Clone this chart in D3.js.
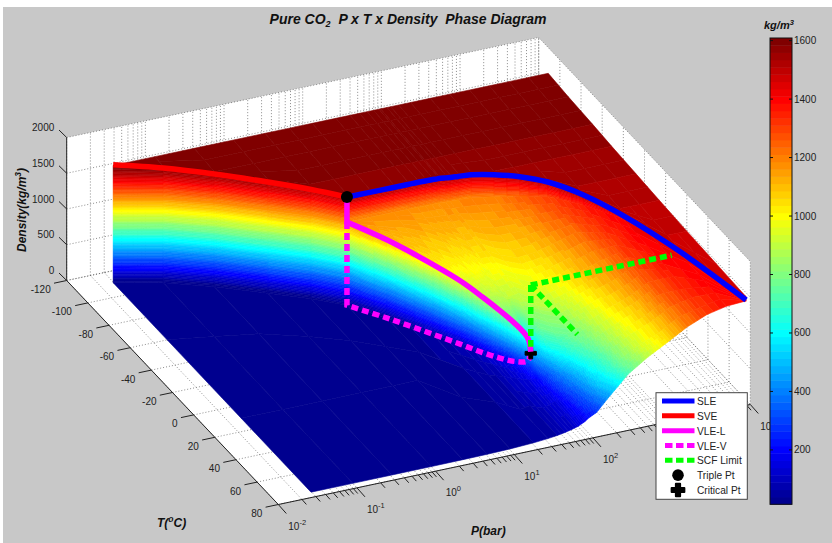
<!DOCTYPE html>
<html>
<head>
<meta charset="utf-8">
<script src="https://d3js.org/d3.v7.min.js"></script>
<style>
html, body { margin: 0; padding: 0; background: #fff; }
text { font-family: "Liberation Sans", Arial, sans-serif; fill: #222; font-size: 10px; }
.lab { font-weight: bold; font-style: italic; font-size: 12px; fill: #111; }
</style>
</head>
<body>
<script>
// axis ticks
var pMajor = [1e-2, 1e-1, 1e0, 1e1, 1e2, 1e3, 1e4];
var tTicks = [-120, -100, -80, -60, -40, -20, 0, 20, 40, 60, 80];
var zTicks = [0, 500, 1000, 1500, 2000];
var cbTicks = [200, 400, 600, 800, 1000, 1200, 1400, 1600];

// isobars of the surface, log10(P/bar); everything below is one value per isobar
var logP = [-1.53, -1, -0.5, 0, 0.4, 0.71, 1, 1.3, 1.48, 1.6, 1.7, 1.78, 1.85, 1.868, 1.95, 2, 2.1, 2.25, 2.5, 2.75, 3, 3.25, 3.5, 3.75, 4];
// solid edge (SVE then SLE)
var edgeT = [-111, -103, -92, -78.6, -67.5, -56.6, -56.6, -56.5, -56.4, -56.3, -56.2, -56.1, -56, -56, -55.5, -55.2, -54.7, -54, -50.5, -45, -37, -22, -3, 30, 76];
var edgeRho = [1650, 1606, 1578, 1559, 1535, 1528, 1526, 1526, 1527, 1529, 1528, 1528, 1527, 1527, 1525, 1523, 1523, 1522, 1520, 1520, 1512, 1508, 1459, 1435, 1399];
// liquid side
var liqRho = [1178, 1178, 1178, 1178, 1178, 1178, 1178, 1180, 1181, 1182, 1183, 1184, 1186, 1186, 1188, 1190, 1195, 1200, 1210, 1250, 1310, 1370, 1415, 1425, 1395];
var aT = [-111, -103, -92, -78.6, -67.5, -56.6, -50, -45, -40, -35, -30, -25, -20, -20, -20, -20, -15, -10, -10, -10, -10, 0, 20, 40, 76];
var aRho = [1178, 1178, 1178, 1178, 1178, 1178, 1155, 1140, 1120, 1100, 1080, 1062, 1045, 1045, 1050, 1055, 1045, 1050, 1080, 1155, 1235, 1325, 1390, 1415, 1393];
var bT = [-111, -103, -92, -78.6, -67.5, -56.6, -45, -30, -20, -15, -5, 5, 10, 10, 10, 10, 15, 20, 20, 20, 20, 20, 35, 50, 76];
var bRho = [1178, 1178, 1178, 1178, 1178, 1178, 1135, 1075, 1035, 1015, 975, 920, 895, 900, 915, 925, 915, 910, 985, 1075, 1165, 1295, 1375, 1405, 1391];
// saturation (liquid / vapor sides of the dome)
var satT = [-111, -103, -92, -78.6, -67.5, -56.6, -40.1, -19.5, -5.5, 5.3, 14.3, 22, 29.5, 31, 28, 30, 35, 40, 40, 40, 40, 40, 45, 55, 76];
var satLiq = [1178, 1178, 1178, 1178, 1178, 1178, 1118, 1030, 965, 893, 820, 750, 640, 467, 770, 772, 770, 780, 900, 1020, 1120, 1265, 1360, 1398, 1390];
var vapT = [-111, -103, -92, -78.6, -67.5, -56.6, -40.1, -19.5, -5.5, 5.3, 14.3, 22, 29.5, 31, 37, 40, 45, 50, 50, 50, 50, 50, 55, 60, 76];
var satVap = [0.2, 0.6, 1.8, 5, 8, 14, 26, 55, 85, 116, 157, 212, 320, 467, 590, 630, 640, 710, 860, 990, 1095, 1245, 1345, 1392, 1389];
// vapor / supercritical side
var cT = [-60, -55, -50, -40, -30, -20, -10, 10, 20, 25, 30, 35, 38, 40, 45, 50, 55, 60, 60, 60, 60, 60, 62, 65, 76];
var cRho = [0.2, 0.5, 1.5, 4, 7, 12, 20, 38, 60, 88, 120, 155, 200, 220, 350, 385, 470, 620, 815, 960, 1070, 1225, 1330, 1385, 1388];
var dT = [10, 10, 10, 10, 10, 10, 30, 40, 50, 50, 55, 55, 55, 55, 60, 60, 65, 68, 68, 68, 68, 68, 70, 70, 76];
var dRho = [0.1, 0.4, 1.2, 3, 6, 10, 18, 34, 52, 72, 95, 120, 150, 160, 225, 290, 380, 550, 780, 940, 1050, 1210, 1320, 1378, 1387];
var endRho = [0.1, 0.3, 1, 2, 5, 8, 15.5, 31, 47.5, 64, 83, 103, 125, 131, 175, 214, 270, 440, 710, 890, 1040, 1195, 1310, 1370, 1386];
var tMin = -111, tMax = 76;
// solid plateau, density runs mostly with T
var solidT = [-111, -92, -69, -51, -28, -6, 20, 76];
var solidRho = [1640, 1609, 1584, 1559, 1534, 1509, 1484, 1445];

// SCF limit: a corner above the critical point and three dashed legs out of it
var scfCornerP = 73.8, scfCornerT = 31, scfCornerZ = 1400;
var scfEndP = [4570, 73.8, 73.8];
var scfEndT = [31, 75, 31];
var scfEndZ = [1400, 1400, 467];
var tripleRho = 1528, tripleLiq = 1178;
var legendNames = ["SLE", "SVE", "VLE-L", "VLE-V", "SCF Limit", "Triple Pt", "Critical Pt"];

var W = 832, H = 543;
var svg = d3.select("body").append("svg")
    .attr("width", W).attr("height", H)
    .style("display", "block");

svg.append("rect").attr("x", 3).attr("y", 7).attr("width", W - 3).attr("height", H - 7).attr("fill", "#c8c8c8");

// 3d view: axes projected by hand, orthographic
var px = d3.scaleLog().domain([1e-2, 1e4]).range([0, 1]);
var tx = d3.scaleLinear().domain([-120, 80]).range([0, 1]);
var zy = d3.scaleLinear().domain([0, 2000]).range([0, 143]);

function proj(p, t, z) {
    var u = px(p), v = tx(t);
    return [66.7 + 472 * u + 211.6 * v, 280.5 - 100 * u + 224 * v - zy(z)];
}

// jet colormap, 64 levels
function clamp01(a) { return Math.max(0, Math.min(1, a)); }
var jet = d3.range(64).map(function(i) {
    var x = (i + 1) / 64;
    var r = clamp01(Math.min(4 * x - 1.5, -4 * x + 4.5)),
        g = clamp01(Math.min(4 * x - 0.5, -4 * x + 3.5)),
        b = clamp01(Math.min(4 * x + 0.5, -4 * x + 2.5));
    return d3.rgb(r * 255, g * 255, b * 255).formatHex();
});
var color = d3.scaleQuantize().domain([14, 1609]).range(jet);

// white panes
var pMin = 1e-2, pMax = 1e4;
var line = d3.line();
var panes = [
    [proj(pMin, -120, 0), proj(pMin, -120, 2000), proj(pMax, -120, 2000), proj(pMax, -120, 0)],
    [proj(pMax, -120, 0), proj(pMax, -120, 2000), proj(pMax, 80, 2000), proj(pMax, 80, 0)],
    [proj(pMin, -120, 0), proj(pMax, -120, 0), proj(pMax, 80, 0), proj(pMin, 80, 0)]
];
svg.append("g").selectAll("path").data(panes).join("path")
    .attr("d", function(d) { return line(d) + "Z"; })
    .attr("fill", "#fff");

// dotted grid, decades plus minor lines
var pGrid = px.copy().ticks();
var grid = [];
pGrid.forEach(function(p) {
    grid.push([proj(p, -120, 0), proj(p, -120, 2000)]);
    grid.push([proj(p, -120, 0), proj(p, 80, 0)]);
});
tTicks.forEach(function(t) {
    grid.push([proj(pMin, t, 0), proj(pMax, t, 0)]);
    grid.push([proj(pMax, t, 0), proj(pMax, t, 2000)]);
});
zTicks.forEach(function(z) {
    grid.push([proj(pMin, -120, z), proj(pMax, -120, z)]);
    grid.push([proj(pMax, -120, z), proj(pMax, 80, z)]);
});
svg.append("g").selectAll("path").data(grid).join("path")
    .attr("d", line)
    .attr("fill", "none")
    .attr("stroke", "#666")
    .attr("stroke-width", 0.75)
    .attr("stroke-dasharray", "1,2");

// surface mesh: each isobar runs through the same rows, walls are collapsed rows
var solidAt = d3.scaleLinear().domain(solidT).range(solidRho);
var rows = logP.map(function(lp, j) {
    var p = Math.pow(10, lp);
    var solidRows = solidT.map(function(t) {
        var tt = Math.min(t, edgeT[j]);
        return [tt, solidAt(tt)];
    });
    return solidRows.concat([
        [edgeT[j], liqRho[j]], [aT[j], aRho[j]], [bT[j], bRho[j]],
        [satT[j], satLiq[j]], [vapT[j], satVap[j]], [cT[j], cRho[j]], [dT[j], dRho[j]], [tMax, endRho[j]]
    ]).map(function(k) { return { u: px(p), t: k[0], z: k[1] }; });
});

function at(q, s, r) {
    // bilinear inside one mesh quad
    function mix(f) {
        return (1 - s) * ((1 - r) * f(q[0]) + r * f(q[1])) + s * ((1 - r) * f(q[2]) + r * f(q[3]));
    }
    return {
        u: mix(function(d) { return d.u; }),
        t: mix(function(d) { return d.t; }),
        z: mix(function(d) { return d.z; })
    };
}
function projUV(d) {
    var v = tx(d.t);
    return [66.7 + 472 * d.u + 211.6 * v, 280.5 - 100 * d.u + 224 * v - zy(d.z)];
}

var cells = [];
for (var j = 0; j < rows.length - 1; j++) {
    for (var i = 0; i < rows[j].length - 1; i++) {
        var q = [rows[j][i], rows[j][i + 1], rows[j + 1][i], rows[j + 1][i + 1]];
        var nu = Math.max(1, Math.ceil(Math.max(Math.abs(q[0].z - q[2].z), Math.abs(q[1].z - q[3].z)) / 20));
        var nv = Math.max(1, Math.ceil(Math.max(Math.abs(q[0].z - q[1].z), Math.abs(q[2].z - q[3].z)) / 20));
        for (var a = 0; a < nu; a++) {
            for (var b = 0; b < nv; b++) {
                var c = at(q, (a + 0.5) / nu, (b + 0.5) / nv);
                cells.push({
                    pts: [
                        projUV(at(q, a / nu, b / nv)),
                        projUV(at(q, a / nu, (b + 1) / nv)),
                        projUV(at(q, (a + 1) / nu, (b + 1) / nv)),
                        projUV(at(q, (a + 1) / nu, b / nv))
                    ],
                    rho: c.z,
                    depth: -100 * c.u + 224 * tx(c.t)
                });
            }
        }
    }
}
cells.sort(function(m, n) { return m.depth - n.depth; });

svg.append("g").selectAll("path").data(cells).join("path")
    .attr("d", function(d) { return line(d.pts) + "Z"; })
    .attr("fill", function(d) { return color(d.rho); })
    .attr("stroke", function(d) { return color(d.rho); })
    .attr("stroke-width", 0.6)
    .attr("stroke-linejoin", "round");

// box edges and ticks
var axis = svg.append("g").attr("stroke", "#222").attr("stroke-width", 1).attr("fill", "none");
var edges = [
    [proj(pMin, -120, 0), proj(pMin, -120, 2000)],
    [proj(pMin, -120, 0), proj(pMin, 80, 0)],
    [proj(pMin, 80, 0), proj(pMax, 80, 0)]
];
axis.selectAll("path.e").data(edges).join("path").attr("class", "e").attr("d", line);

axis.selectAll("path.z").data(zTicks).join("path").attr("class", "z")
    .attr("d", function(z) { var a = proj(pMin, -120, z); return line([a, [a[0] - 7.7, a[1] - 7.5]]); });
axis.selectAll("path.t").data(tTicks).join("path").attr("class", "t")
    .attr("d", function(t) { var a = proj(pMin, t, 0); return line([a, [a[0] - 12.7, a[1] + 2.7]]); });
axis.selectAll("path.p").data(pGrid).join("path").attr("class", "p")
    .attr("d", function(p) {
        var a = proj(p, 80, 0), major = pMajor.indexOf(p) >= 0, k = major ? 1 : 0.55;
        return line([a, [a[0] + 8 * k, a[1] + 9 * k]]);
    });

svg.append("g").selectAll("text").data(zTicks).join("text")
    .attr("x", function(z) { return proj(pMin, -120, z)[0] - 12.4; })
    .attr("y", function(z) { return proj(pMin, -120, z)[1] - 6.5; })
    .attr("text-anchor", "end")
    .text(function(z) { return z; });
svg.append("g").selectAll("text").data(tTicks).join("text")
    .attr("x", function(t) { return proj(pMin, t, 0)[0] - 16; })
    .attr("y", function(t) { return proj(pMin, t, 0)[1] + 12.5; })
    .attr("text-anchor", "end")
    .text(function(t) { return t; });
var pLab = svg.append("g").selectAll("text").data(pMajor).join("text")
    .attr("x", function(p) { return proj(p, 80, 0)[0] + 10; })
    .attr("y", function(p) { return proj(p, 80, 0)[1] + 25; });
pLab.append("tspan").text("10");
pLab.append("tspan").attr("dy", -5).style("font-size", "7.5px")
    .text(function(p) { return Math.round(Math.log10(p)); });

// phase boundary lines, drawn from the same isobar arrays
var nTp = logP.indexOf(0.71), nCp = logP.indexOf(1.868);
var sle = d3.range(nTp, logP.length).map(function(k) { return proj(Math.pow(10, logP[k]), edgeT[k], edgeRho[k]); });
var sve = d3.range(0, nTp + 1).map(function(k) { return proj(Math.pow(10, logP[k]), edgeT[k], edgeRho[k]); });
var pTp = Math.pow(10, logP[nTp]), tTp = edgeT[nTp], pCp = Math.pow(10, logP[nCp]), tCp = satT[nCp];
var vleL = d3.range(nTp, nCp + 1).map(function(k) { return proj(Math.pow(10, logP[k]), satT[k], satLiq[k]); });
var vleV = d3.range(nTp, nCp + 1).map(function(k) { return proj(Math.pow(10, logP[k]), vapT[k], satVap[k]); });

var styles = [
    { color: "#0000ff" },
    { color: "#ff0000" },
    { color: "#ff00ff" },
    { color: "#ff00ff", dash: "7,4" },
    { color: "#00ff00", dash: "7,4" }
];
var smooth = d3.line().curve(d3.curveCatmullRom.alpha(0.5));
function draw(d, st) {
    svg.append("path")
        .attr("d", d)
        .attr("fill", "none")
        .attr("stroke", st.color)
        .attr("stroke-width", 5.5)
        .attr("stroke-dasharray", st.dash || null);
}

var tp = proj(pTp, tTp, tripleRho), cp = proj(pCp, tCp, satLiq[nCp]);
var plus = d3.symbol().type(d3.symbolCross);

draw(smooth(sle), styles[0]);
draw(smooth(sve), styles[1]);
// both dome sides start with the vertical jump at the triple point
var topL = proj(pTp, tTp, tripleRho), topV = proj(pTp, tTp, tripleLiq);
draw("M" + topV + "L" + smooth(vleV).slice(1), styles[3]);
svg.append("path").attr("d", plus.size(70)()).attr("transform", "translate(" + cp[0] + "," + (cp[1] + 1.5) + ")")
    .attr("fill", "#000").attr("stroke", "#000");
draw("M" + topL + "L" + smooth(vleL).slice(1), styles[2]);
var corner = proj(scfCornerP, scfCornerT, scfCornerZ);
scfEndP.forEach(function(p, k) {
    // the leg down to the critical point stops short of the marker
    var end = proj(p, scfEndT[k], scfEndZ[k]);
    if (k === 2) end[1] -= 5;
    draw(line([corner, end]), styles[4]);
});

svg.append("circle").attr("cx", tp[0]).attr("cy", tp[1]).attr("r", 6).attr("fill", "#000");

// colorbar
var cbX = 770, cbW = 22;
var cbY = d3.scaleLinear().domain([14, 1609]).range([504.3, 38]);
var cb = svg.append("g");
cb.selectAll("rect").data(jet).join("rect")
    .attr("x", cbX).attr("width", cbW)
    .attr("y", function(d, k) { return cbY(14 + (k + 1) * 1595 / 64); })
    .attr("height", 466.3 / 64 + 0.4)
    .attr("fill", function(d) { return d; });
cb.append("rect").attr("x", cbX).attr("y", 38).attr("width", cbW).attr("height", 466.3)
    .attr("fill", "none").attr("stroke", "#111").attr("stroke-width", 1);
cb.selectAll("path").data(cbTicks).join("path")
    .attr("d", function(v) {
        return "M" + cbX + "," + cbY(v) + "h3M" + (cbX + cbW - 3) + "," + cbY(v) + "h3";
    })
    .attr("stroke", "#111");
cb.selectAll("text").data(cbTicks).join("text")
    .attr("x", cbX + cbW + 2)
    .attr("y", function(v) { return cbY(v) + 3.5; })
    .text(function(v) { return v; });

// titles
var title = svg.append("text").attr("class", "lab").style("font-size", "14px").attr("x", 408).attr("y", 24).attr("text-anchor", "middle");
title.append("tspan").text("Pure CO");
title.append("tspan").attr("dy", 3).style("font-size", "9px").text("2");
title.append("tspan").attr("dy", -3).text("\u00a0\u00a0P x T x Density\u00a0\u00a0Phase Diagram");

var zl = svg.append("text").attr("class", "lab").attr("transform", "translate(26,252) rotate(-90)");
zl.append("tspan").text("Density(kg/m");
zl.append("tspan").attr("dy", -5).style("font-size", "8.5px").text("3");
zl.append("tspan").attr("dy", 5).text(")");

var tl = svg.append("text").attr("class", "lab").attr("x", 157).attr("y", 527);
tl.append("tspan").text("T(");
tl.append("tspan").attr("dy", -5).style("font-size", "8.5px").text("o");
tl.append("tspan").attr("dy", 5).text("C)");

svg.append("text").attr("class", "lab").attr("x", 471).attr("y", 535).text("P(bar)");

var ul = svg.append("text").attr("class", "lab").style("font-size", "11px").attr("x", 764).attr("y", 29);
ul.append("tspan").text("kg/m");
ul.append("tspan").attr("dy", -4).style("font-size", "7.5px").text("3");

// legend
var lg = svg.append("g");
lg.append("rect").attr("x", 656).attr("y", 392.7).attr("width", 91.3).attr("height", 106.6)
    .attr("fill", "#fff").attr("stroke", "#444").attr("stroke-width", 1);
var lgY = d3.scalePoint().domain(legendNames).range([401, 490]);
legendNames.forEach(function(name, k) {
    var y = lgY(name);
    if (k < 5) {
        var dashed = k === 3 || k === 4;
        lg.append("path").attr("d", "M" + (dashed ? 665 : 662) + "," + y + "H694.5")
            .attr("stroke", styles[k].color).attr("stroke-width", 5)
            .attr("stroke-dasharray", dashed ? "7.5,3.5" : null);
    } else if (k === 5) {
        lg.append("circle").attr("cx", 678).attr("cy", y).attr("r", 5.8).attr("fill", "#000");
    } else {
        lg.append("path").attr("d", plus.size(90)()).attr("transform", "translate(678," + y + ")")
            .attr("fill", "#000").attr("stroke", "#000").attr("stroke-width", 2).attr("stroke-linejoin", "round");
    }
    lg.append("text").attr("x", 697).attr("y", y + 4).style("font-size", "10.2px").text(name);
});
</script>
</body>
</html>
